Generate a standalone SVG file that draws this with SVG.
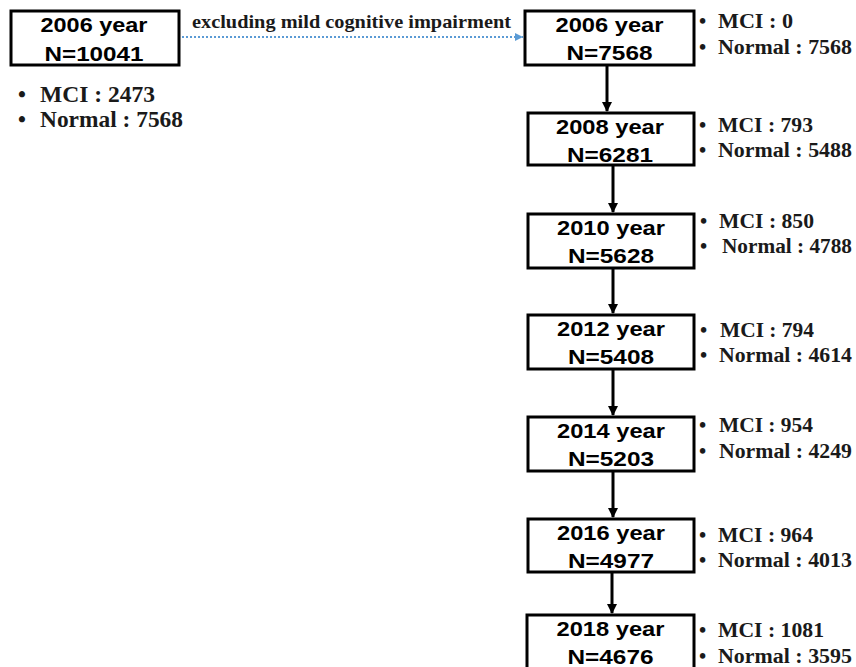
<svg xmlns="http://www.w3.org/2000/svg" width="856" height="667" viewBox="0 0 856 667">
<style>
.box{fill:#fff;stroke:#000;stroke-width:3}
.bt{font-family:"Liberation Sans",Arial,sans-serif;font-weight:bold;font-size:20px;fill:#000;text-anchor:middle}
.st{font-family:"Liberation Serif","Times New Roman",serif;font-weight:bold;font-size:20.5px;fill:#1a1a1a}
.lt{font-family:"Liberation Serif","Times New Roman",serif;font-weight:bold;font-size:22.5px;fill:#1a1a1a}
.lbl{font-family:"Liberation Serif","Times New Roman",serif;font-weight:bold;font-size:19px;fill:#1a1a1a}
.arr{stroke:#000;stroke-width:3;fill:none;marker-end:url(#ah)}
.dot{stroke:#5B9BD5;stroke-width:2.2;stroke-dasharray:2 2;fill:none;marker-end:url(#bh)}
</style>
<defs>
<marker id="ah" markerWidth="10" markerHeight="10" refX="9" refY="5" orient="auto" markerUnits="userSpaceOnUse" viewBox="0 0 10 10">
<path d="M0,0 L10,5 L0,10 Z" fill="#000"/>
</marker>
<marker id="bh" markerWidth="8" markerHeight="8" refX="8" refY="4" orient="auto" markerUnits="userSpaceOnUse" viewBox="0 0 8 8">
<path d="M0,0 L8,4 L0,8 Z" fill="#5B9BD5"/>
</marker>
</defs>
<rect width="856" height="667" fill="#fff"/>

<g id="connectors">
<line class="dot" x1="182" y1="37" x2="523" y2="37"/>
<line class="arr" x1="607" y1="66" x2="607" y2="111"/>
<line class="arr" x1="613" y1="166" x2="613" y2="212"/>
<line class="arr" x1="613" y1="269" x2="613" y2="313"/>
<line class="arr" x1="613" y1="370" x2="613" y2="415"/>
<line class="arr" x1="613" y1="472" x2="613" y2="517"/>
<line class="arr" x1="612" y1="573" x2="612" y2="613"/>
<text class="lbl" x="192" y="28" textLength="319" lengthAdjust="spacingAndGlyphs">excluding mild cognitive impairment</text>
</g>

<g id="n2006all">
<rect class="box" x="11" y="11" width="168" height="54"/>
<text class="bt" x="94" y="32" textLength="107" lengthAdjust="spacingAndGlyphs">2006 year</text>
<text class="bt" x="94" y="61" textLength="99" lengthAdjust="spacingAndGlyphs">N=10041</text>
<text class="lt" x="18" y="102">•</text>
<text class="lt" x="40" y="102" textLength="115" lengthAdjust="spacingAndGlyphs">MCI : 2473</text>
<text class="lt" x="18" y="127">•</text>
<text class="lt" x="40" y="127" textLength="143" lengthAdjust="spacingAndGlyphs">Normal : 7568</text>
</g>

<g id="n2006">
<rect class="box" x="525" y="11" width="169" height="54"/>
<text class="bt" x="609.5" y="32" textLength="108" lengthAdjust="spacingAndGlyphs">2006 year</text>
<text class="bt" x="609.5" y="60" textLength="86" lengthAdjust="spacingAndGlyphs">N=7568</text>
<text class="st" x="699" y="28">•</text>
<text class="st" x="718" y="28" textLength="75" lengthAdjust="spacingAndGlyphs">MCI : 0</text>
<text class="st" x="699" y="54">•</text>
<text class="st" x="718" y="54" textLength="134" lengthAdjust="spacingAndGlyphs">Normal : 7568</text>
</g>

<g id="n2008">
<rect class="box" x="528" y="113" width="166" height="52"/>
<text class="bt" x="610" y="134" textLength="108" lengthAdjust="spacingAndGlyphs">2008 year</text>
<text class="bt" x="610" y="162" textLength="86" lengthAdjust="spacingAndGlyphs">N=6281</text>
<text class="st" x="699" y="132">•</text>
<text class="st" x="718" y="132" textLength="95" lengthAdjust="spacingAndGlyphs">MCI : 793</text>
<text class="st" x="699" y="157">•</text>
<text class="st" x="718" y="157" textLength="134" lengthAdjust="spacingAndGlyphs">Normal : 5488</text>
</g>

<g id="n2010">
<rect class="box" x="528" y="214" width="166" height="54"/>
<text class="bt" x="611" y="235" textLength="108" lengthAdjust="spacingAndGlyphs">2010 year</text>
<text class="bt" x="611" y="263" textLength="86" lengthAdjust="spacingAndGlyphs">N=5628</text>
<text class="st" x="700" y="228">•</text>
<text class="st" x="719" y="228" textLength="95" lengthAdjust="spacingAndGlyphs">MCI : 850</text>
<text class="st" x="700" y="253">•</text>
<text class="st" x="722" y="253" textLength="130" lengthAdjust="spacingAndGlyphs">Normal : 4788</text>
</g>

<g id="n2012">
<rect class="box" x="528" y="315" width="166" height="54"/>
<text class="bt" x="611" y="336" textLength="108" lengthAdjust="spacingAndGlyphs">2012 year</text>
<text class="bt" x="611" y="364" textLength="86" lengthAdjust="spacingAndGlyphs">N=5408</text>
<text class="st" x="700" y="337">•</text>
<text class="st" x="720" y="337" textLength="94" lengthAdjust="spacingAndGlyphs">MCI : 794</text>
<text class="st" x="700" y="362">•</text>
<text class="st" x="719" y="362" textLength="133" lengthAdjust="spacingAndGlyphs">Normal : 4614</text>
</g>

<g id="n2014">
<rect class="box" x="528" y="417" width="166" height="54"/>
<text class="bt" x="611" y="438" textLength="108" lengthAdjust="spacingAndGlyphs">2014 year</text>
<text class="bt" x="611" y="466" textLength="86" lengthAdjust="spacingAndGlyphs">N=5203</text>
<text class="st" x="699" y="432">•</text>
<text class="st" x="719" y="432" textLength="94" lengthAdjust="spacingAndGlyphs">MCI : 954</text>
<text class="st" x="699" y="458">•</text>
<text class="st" x="719" y="458" textLength="133" lengthAdjust="spacingAndGlyphs">Normal : 4249</text>
</g>

<g id="n2016">
<rect class="box" x="528" y="519" width="166" height="53"/>
<text class="bt" x="611" y="540" textLength="108" lengthAdjust="spacingAndGlyphs">2016 year</text>
<text class="bt" x="611" y="568" textLength="86" lengthAdjust="spacingAndGlyphs">N=4977</text>
<text class="st" x="699" y="542">•</text>
<text class="st" x="718" y="542" textLength="95" lengthAdjust="spacingAndGlyphs">MCI : 964</text>
<text class="st" x="699" y="567">•</text>
<text class="st" x="718" y="567" textLength="134" lengthAdjust="spacingAndGlyphs">Normal : 4013</text>
</g>

<g id="n2018">
<rect class="box" x="527" y="615" width="167" height="54"/>
<text class="bt" x="610.5" y="636" textLength="108" lengthAdjust="spacingAndGlyphs">2018 year</text>
<text class="bt" x="610.5" y="664" textLength="86" lengthAdjust="spacingAndGlyphs">N=4676</text>
<text class="st" x="699" y="637">•</text>
<text class="st" x="718" y="637" textLength="106" lengthAdjust="spacingAndGlyphs">MCI : 1081</text>
<text class="st" x="699" y="663">•</text>
<text class="st" x="718" y="663" textLength="134" lengthAdjust="spacingAndGlyphs">Normal : 3595</text>
</g>
</svg>
